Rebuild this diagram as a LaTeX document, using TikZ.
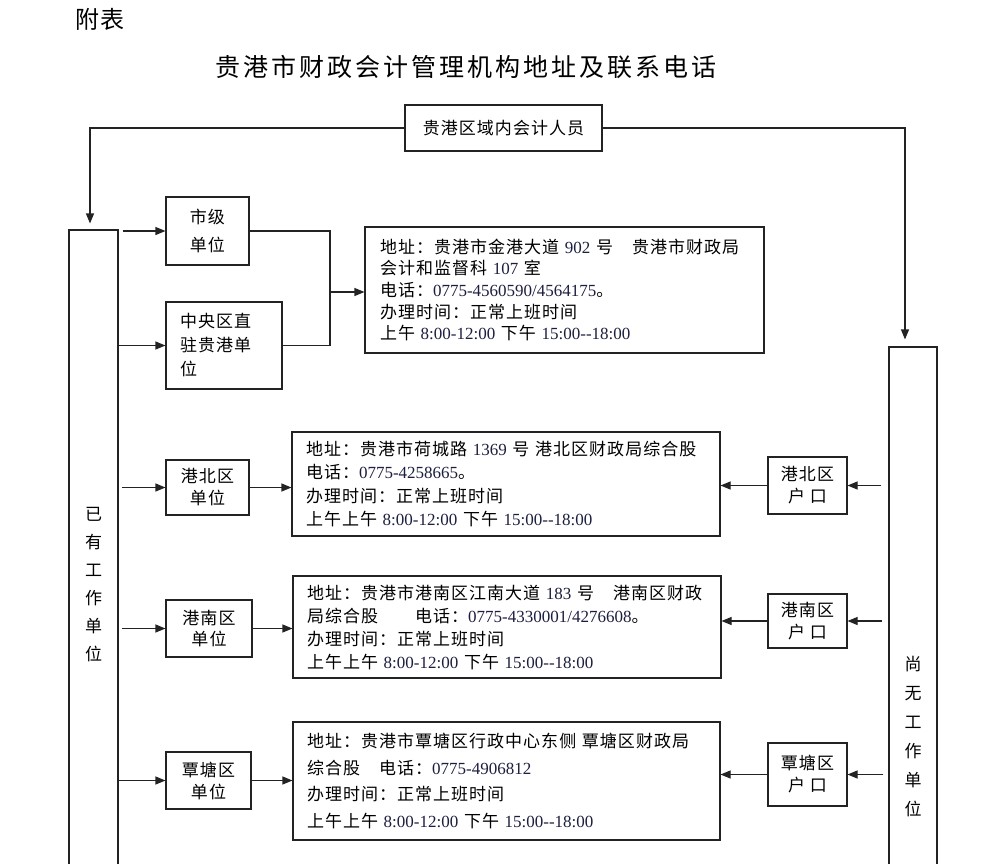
\documentclass[tikz,border=0pt]{standalone}
\usepackage{fontspec}
\setmainfont[LetterSpace=6]{Noto Sans CJK SC}
\newfontfamily\titlefont[LetterSpace=12]{Noto Sans CJK SC}
\newfontfamily\numfont{Liberation Serif}
\usetikzlibrary{arrows.meta}
\definecolor{numcol}{RGB}{28,30,62}
\definecolor{linecol}{RGB}{35,35,35}
\newcommand\nm[1]{{\numfont\color{numcol}#1}}
\newcommand\dd{\mbox{-}\mbox{-}}
\begin{document}
\begin{tikzpicture}[x=1pt,y=-1pt,line width=1.1pt,
  box/.style={draw=linecol,inner sep=0pt,align=center,font=\fontsize{17}{22}\selectfont},
  abox/.style={draw=linecol,inner xsep=14pt,inner ysep=0pt,align=left},
  tall/.style={draw=linecol,inner sep=0pt},
  arr/.style={draw=linecol,-{Triangle[length=10pt,width=8pt]}},
  lnk/.style={draw=linecol}]
\clip (0,0) rectangle (993,863);
\useasboundingbox (0,0) rectangle (993,863);

% headings
\node (fb) at (100,19) {\fontsize{24}{24}\selectfont 附表};
\node (title) at (465.5,67) {\titlefont\fontsize{25}{25}\selectfont 贵港市财政会计管理机构地址及联系电话};

% top box
\node[box,minimum width=197pt,minimum height=46pt] (top) at (503.5,128) {贵港区域内会计人员};

% tall side boxes
\node[tall,minimum width=49pt,minimum height=640pt] (L) at (93.5,550) {};
\node[align=center,font=\fontsize{17}{28}\selectfont] (Lt) at (93.5,585) {已\\有\\工\\作\\单\\位};
\node[tall,minimum width=48pt,minimum height=530pt] (R) at (913,612) {};
\node[align=center,font=\fontsize{17}{29}\selectfont] (Rt) at (913,737) {尚\\无\\工\\作\\单\\位};

% unit boxes
\node[box,minimum width=83pt,minimum height=68pt,font=\fontsize{17}{28}\selectfont] (sj) at (207.5,231) {市级\\单位};
\node[box,align=left,text width=88pt,inner xsep=14pt,minimum height=87pt,font=\fontsize{17}{24}\selectfont] (zy) at (224,345.5) {中央区直\\驻贵港单\\位};
\node[box,minimum width=83pt,minimum height=55pt] (gb) at (207.5,487.5) {港北区\\单位};
\node[box,minimum width=86pt,minimum height=57pt,font=\fontsize{17}{21}\selectfont] (gn) at (209,628.5) {港南区\\单位};
\node[box,minimum width=85pt,minimum height=57pt] (tt) at (208.5,780.5) {覃塘区\\单位};

% household boxes
\node[box,minimum width=79pt,minimum height=57pt] (hb) at (807.5,485.5) {港北区\\户 口};
\node[box,minimum width=79pt,minimum height=54pt] (hn) at (807.5,621) {港南区\\户 口};
\node[box,minimum width=79pt,minimum height=63pt] (ht) at (807.5,774.5) {覃塘区\\户 口};

% address boxes
\node[abox,text width=369pt,inner xsep=15pt,minimum height=126pt,font=\fontsize{17}{21.7}\selectfont] (a1) at (564.5,290)
 {地址：贵港市金港大道~\nm{902}~号　贵港市财政局\\
  会计和监督科~\nm{107}~室\\
  电话：\nm{0775-4560590/4564175}。\\
  办理时间：正常上班时间\\
  上午~\nm{8:00-12:00}~下午~\nm{15:00--18:00}};
\node[abox,text width=400pt,minimum height=104pt,font=\fontsize{17}{23.3}\selectfont] (a2) at (506,484)
 {地址：贵港市荷城路~\nm{1369}~号~港北区财政局综合股\\
  电话：\nm{0775-4258665}。\\
  办理时间：正常上班时间\\
  上午上午~\nm{8:00-12:00}~下午~\nm{15:00\dd18:00}};
\node[abox,text width=400pt,minimum height=102pt,font=\fontsize{17}{23}\selectfont] (a3) at (507,627)
 {地址：贵港市港南区江南大道~\nm{183}~号　港南区财政\\
  局综合股　　电话：\nm{0775-4330001/4276608}。\\
  办理时间：正常上班时间\\
  上午上午~\nm{8:00-12:00}~下午~\nm{15:00\dd18:00}};
\node[abox,text width=399pt,minimum height=118pt,font=\fontsize{17}{26.7}\selectfont] (a4) at (506.5,781)
 {地址：贵港市覃塘区行政中心东侧~覃塘区财政局\\
  综合股　电话：\nm{0775-4906812}\\
  办理时间：正常上班时间\\
  上午上午~\nm{8:00-12:00}~下午~\nm{15:00\dd18:00}};

% top connectors
\coordinate (tl) at (90,128);
\coordinate (tr) at (905,128);
\draw[arr] (top.west) -- (tl) -- ([yshift=6pt]tl |- L.north);
\draw[arr] (top.east) -- (tr) -- ([yshift=7pt]tr |- R.north);

% left column arrows
\draw[arr] ([xshift=4pt]L.east |- sj.west) -- (sj.west);
\draw[arr] (L.east |- zy.west) -- (zy.west);
\draw[arr] ([xshift=3pt]L.east |- gb.west) -- (gb.west);
\draw[arr] ([xshift=3pt]L.east |- gn.west) -- (gn.west);
\draw[arr] (L.east |- tt.west) -- (tt.west);

% merge to first address
\coordinate (mx) at (330,292);
\draw[lnk] (sj.east) -| (mx) |- (zy.east);
\draw[arr] (mx) -- (mx -| a1.west);

% units to addresses
\draw[arr] (gb.east) -- (gb.east -| a2.west);
\draw[arr] (gn.east) -- (gn.east -| a3.west);
\draw[arr] (tt.east) -- (tt.east -| a4.west);

% right column arrows
\draw[arr] ([xshift=-7pt]R.west |- hb.east) -- (hb.east);
\draw[arr] ([xshift=-6pt]R.west |- hn.east) -- (hn.east);
\draw[arr] ([xshift=-5pt]R.west |- ht.east) -- (ht.east);
\draw[arr] (hb.west) -- (hb.west -| a2.east);
\draw[arr] (hn.west) -- (hn.west -| a3.east);
\draw[arr] (ht.west) -- (ht.west -| a4.east);
\end{tikzpicture}
\end{document}
